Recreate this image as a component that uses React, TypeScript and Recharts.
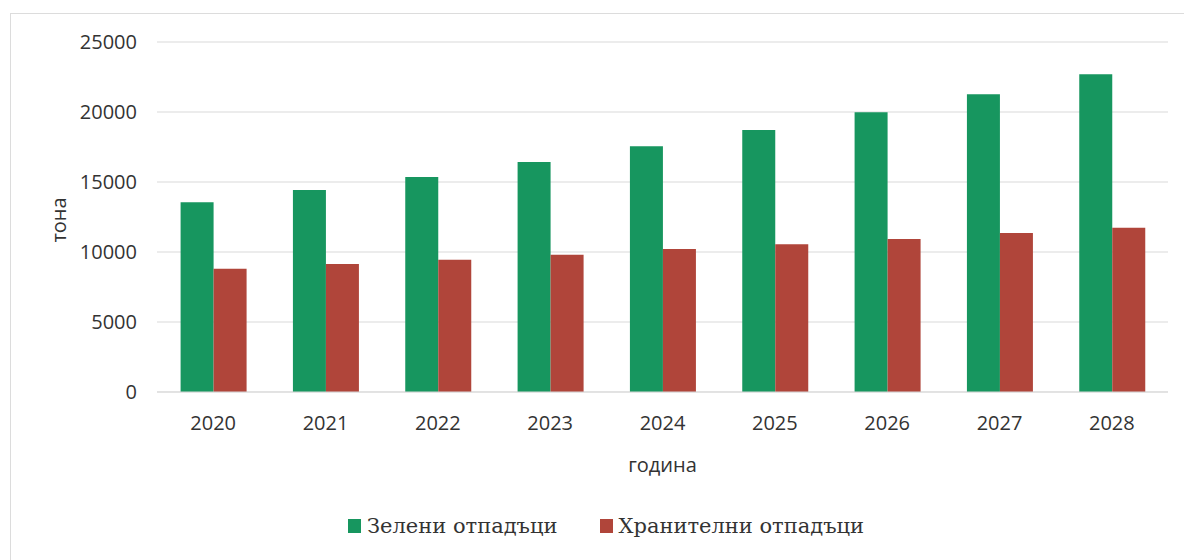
import { BarChart, Bar, XAxis, YAxis, CartesianGrid, Legend } from 'recharts';

const years = ['2020', '2021', '2022', '2023', '2024', '2025', '2026', '2027', '2028'];
const greenWaste = [13550, 14430, 15360, 16430, 17550, 18710, 19980, 21260, 22690];
const foodWaste = [8810, 9140, 9450, 9810, 10210, 10550, 10930, 11360, 11740];
const yTicks = [0, 5000, 10000, 15000, 20000, 25000];

const GREEN = '#17965f';
const RED = '#b0453a';
const AXIS_FONT = '"Open Sans", sans-serif';

const data = years.map((y, i) => ({ year: y, green: greenWaste[i], food: foodWaste[i] }));

const legendItems = [
  { label: 'Зелени отпадъци', color: GREEN },
  { label: 'Хранителни отпадъци', color: RED },
];

function LegendContent() {
  return (
    <div style={{ display: 'flex', justifyContent: 'center', gap: 42, paddingLeft: 28, fontFamily: '"DejaVu Serif", serif', fontSize: 21, color: '#333' }}>
      {legendItems.map((it) => (
        <div key={it.label} style={{ display: 'flex', alignItems: 'center', gap: 6 }}>
          <span style={{ display: 'inline-block', width: 13, height: 14, background: it.color }} />
          <span>{it.label}</span>
        </div>
      ))}
    </div>
  );
}

export default function App() {
  return (
    <div style={{ position: 'absolute', left: 0, top: 0, width: 1184, height: 560, overflow: 'hidden', background: '#fff' }}>
      <div style={{ position: 'absolute', left: 10, top: 13, width: 1300, height: 700, border: '1px solid #dcdcdc' }} />
      <BarChart
        width={1184}
        height={560}
        data={data}
        margin={{ top: 42, right: 16, bottom: 54, left: 0 }}
        barCategoryGap="21%"
        barGap={0}
      >
        <CartesianGrid vertical={false} stroke="#d9d9d9" />
        <XAxis
          dataKey="year"
          height={90}
          tickLine={false}
          axisLine={{ stroke: '#d9d9d9' }}
          tickMargin={18}
          tick={{ fill: '#333', fontSize: 20, fontFamily: AXIS_FONT }}
          label={{ value: 'година', position: 'insideBottom', offset: 10, fill: '#333', fontSize: 20, fontFamily: AXIS_FONT }}
        />
        <YAxis
          width={157}
          domain={[0, 25000]}
          ticks={yTicks}
          tickLine={false}
          axisLine={false}
          tickSize={0}
          tickMargin={20}
          tick={{ fill: '#333', fontSize: 20, fontFamily: AXIS_FONT }}
          label={{
            content: () => (
              <text transform="translate(58,220) rotate(-90)" textAnchor="middle" dominantBaseline="central" fill="#333" fontSize={20} fontFamily={AXIS_FONT}>
                тона
              </text>
            ),
          }}
        />
        <Legend
          content={<LegendContent />}
          wrapperStyle={{ position: 'absolute', top: 514, left: 0, width: 1184 }}
        />
        <Bar dataKey="green" name="Зелени отпадъци" fill={GREEN} isAnimationActive={false} />
        <Bar dataKey="food" name="Хранителни отпадъци" fill={RED} isAnimationActive={false} />
      </BarChart>
    </div>
  );
}
